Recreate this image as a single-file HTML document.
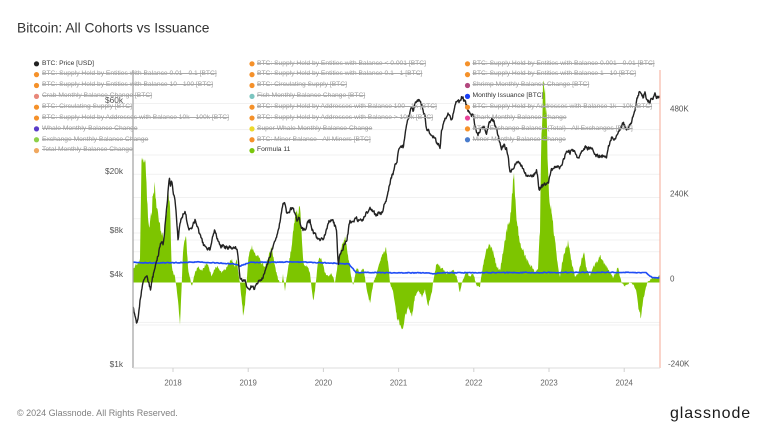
<!DOCTYPE html>
<html><head><meta charset="utf-8"><style>
html,body{margin:0;padding:0;background:#fff;}
#wrap{position:relative;width:768px;height:432px;overflow:hidden;font-family:"Liberation Sans",sans-serif;}
svg{position:absolute;left:0;top:0;}
.lg{position:absolute;font-size:6.7px;line-height:8px;white-space:nowrap;color:#999;text-decoration:line-through;text-decoration-color:#a8a8a8;}
.lg.on{color:#333;text-decoration:none;}
</style></head><body><div id="wrap">
<svg id="ch" width="768" height="432" viewBox="0 0 768 432" xmlns="http://www.w3.org/2000/svg">
<g id="grid" stroke="#f1f1f1" stroke-width="1"></g>
<path id="green" fill="#7dc500" stroke="none"/>
<path id="blue" fill="none" stroke="#1f4cf5" stroke-width="1.6"/>
<path id="price" fill="none" stroke="#222" stroke-width="1.4" stroke-linejoin="round"/>
<line x1="133" y1="70" x2="133" y2="368" stroke="#a0a0a0" stroke-width="1.2"/>
<line x1="660" y1="70" x2="660" y2="368" stroke="#f6b7a6" stroke-width="1.2"/>
<line x1="133" y1="368" x2="660" y2="368" stroke="#dedede" stroke-width="1"/>
<g stroke="#d0d0d0" stroke-width="1">
<line x1="173" y1="368" x2="173" y2="372"/><line x1="248.2" y1="368" x2="248.2" y2="372"/><line x1="323.4" y1="368" x2="323.4" y2="372"/><line x1="398.6" y1="368" x2="398.6" y2="372"/><line x1="473.8" y1="368" x2="473.8" y2="372"/><line x1="549" y1="368" x2="549" y2="372"/><line x1="624.2" y1="368" x2="624.2" y2="372"/>
</g>
<g font-family="Liberation Sans, sans-serif" font-size="8.3" fill="#555" text-anchor="end">
<text x="123" y="103">$60k</text><text x="123" y="174">$20k</text><text x="123" y="233">$8k</text><text x="123" y="277">$4k</text><text x="123" y="367">$1k</text>
</g>
<g font-family="Liberation Sans, sans-serif" font-size="8" fill="#555">
<text x="670" y="111.5">480K</text><text x="670" y="196.5">240K</text><text x="670" y="281.5">0</text><text x="668" y="366.5">-240K</text>
</g>
<g font-family="Liberation Sans, sans-serif" font-size="7.8" fill="#666" text-anchor="middle">
<text x="173" y="385.5">2018</text><text x="248.2" y="385.5">2019</text><text x="323.4" y="385.5">2020</text><text x="398.6" y="385.5">2021</text><text x="473.8" y="385.5">2022</text><text x="549" y="385.5">2023</text><text x="624.2" y="385.5">2024</text>
</g>
<text x="17" y="32.6" font-family="Liberation Sans, sans-serif" font-size="13.8" fill="#333">Bitcoin: All Cohorts vs Issuance</text>
<text x="17" y="416" font-family="Liberation Sans, sans-serif" font-size="9" fill="#808080">© 2024 Glassnode. All Rights Reserved.</text>
<text x="670" y="418" font-family="Liberation Sans, sans-serif" font-size="16" letter-spacing="0.9" fill="#1a1a1a">glassnode</text>
<g id="dots"></g>
</svg>

<div class="lg on" style="left:42px;top:59.6px">BTC: Price [USD]</div>
<div class="lg" style="left:42px;top:70.3px">BTC: Supply Held by Entities with Balance 0.01 - 0.1 [BTC]</div>
<div class="lg" style="left:42px;top:81.1px">BTC: Supply Held by Entities with Balance 10 - 100 [BTC]</div>
<div class="lg" style="left:42px;top:92px">Crab Monthly Balance Change [BTC]</div>
<div class="lg" style="left:42px;top:102.9px">BTC: Circulating Supply [BTC]</div>
<div class="lg" style="left:42px;top:113.8px">BTC: Supply Held by Addresses with Balance 10k - 100k [BTC]</div>
<div class="lg" style="left:42px;top:124.6px">Whale Monthly Balance Change</div>
<div class="lg" style="left:42px;top:135.6px">Exchange Monthly Balance Change</div>
<div class="lg" style="left:42px;top:146.4px">Total Monthly Balance Change</div>

<div class="lg" style="left:257px;top:59.6px">BTC: Supply Held by Entities with Balance &lt; 0.001 [BTC]</div>
<div class="lg" style="left:257px;top:70.3px">BTC: Supply Held by Entities with Balance 0.1 - 1 [BTC]</div>
<div class="lg" style="left:257px;top:81.1px">BTC: Circulating Supply [BTC]</div>
<div class="lg" style="left:257px;top:92px">Fish Monthly Balance Change [BTC]</div>
<div class="lg" style="left:257px;top:102.9px">BTC: Supply Held by Addresses with Balance 100 - 1k [BTC]</div>
<div class="lg" style="left:257px;top:113.8px">BTC: Supply Held by Addresses with Balance &gt; 100k [BTC]</div>
<div class="lg" style="left:257px;top:124.6px">Super Whale Monthly Balance Change</div>
<div class="lg" style="left:257px;top:135.6px">BTC: Miner Balance - All Miners [BTC]</div>
<div class="lg on" style="left:257px;top:146.4px">Formula 11</div>

<div class="lg" style="left:472.5px;top:59.6px">BTC: Supply Held by Entities with Balance 0.001 - 0.01 [BTC]</div>
<div class="lg" style="left:472.5px;top:70.3px">BTC: Supply Held by Entities with Balance 1 - 10 [BTC]</div>
<div class="lg" style="left:472.5px;top:81.1px">Shrimp Monthly Balance Change [BTC]</div>
<div class="lg on" style="left:472.5px;top:92px">Monthly Issuance [BTC]</div>
<div class="lg" style="left:472.5px;top:102.9px">BTC: Supply Held by Addresses with Balance 1k - 10k [BTC]</div>
<div class="lg" style="left:472.5px;top:113.8px">Shark Monthly Balance Change</div>
<div class="lg" style="left:472.5px;top:124.6px">BTC: Exchange Balance (Total) - All Exchanges [BTC]</div>
<div class="lg" style="left:472.5px;top:135.6px">Miner Monthly Balance Change</div>
</div>
<script>
(function(){
var NS="http://www.w3.org/2000/svg";
function rng(seed){return function(){seed|=0;seed=seed+0x6D2B79F5|0;var t=Math.imul(seed^seed>>>15,1|seed);t=t+Math.imul(t^t>>>7,61|t)^t;return((t^t>>>14)>>>0)/4294967296;};}
function interp(p,x){for(var i=0;i<p.length-1;i++){if(x<=p[i+1][0]){var a=p[i],b=p[i+1];var f=(x-a[0])/(b[0]-a[0]);return a[1]+(b[1]-a[1])*f;}}return p[p.length-1][1];}
var g=document.getElementById("grid");
[103.5,129.6,155,174.2,197.5,218.8,233,240,251.7,277.8,322.4,325].forEach(function(y){var l=document.createElementNS(NS,"line");l.setAttribute("x1",133);l.setAttribute("x2",660);l.setAttribute("y1",y);l.setAttribute("y2",y);g.appendChild(l);});
var dots=document.getElementById("dots");
var cols=[[36.5,["#222","#f5912a","#f5912a","#e8877a","#f5912a","#f5912a","#5a3cc8","#8ed04a","#f0a860"]],
[252,["#f5912a","#f5912a","#f5912a","#7cc5c0","#f5912a","#f5912a","#ecd92c","#f5912a","#7ac70c"]],
[467.5,["#f5912a","#f5912a","#b2487e","#1a3ff5","#f5912a","#e8449a","#f5912a","#4a7ccc"]]];
cols.forEach(function(c){c[1].forEach(function(col,i){var e=document.createElementNS(NS,"circle");e.setAttribute("cx",c[0]);e.setAttribute("cy",63.8+i*10.85);e.setAttribute("r",2.6);e.setAttribute("fill",col);dots.appendChild(e);});});
var B=282.5;
var gp=[[133,270],[135,266],[138,262],[140,258],[141.7,151.7],[143,156],[145,160],[146.7,190],[148.3,226.7],[150,223],[151.7,213],[153.3,190],[155,186.7],[156.7,206.7],[160,226.7],[163.3,240],[165,223],[168.3,196.7],[170,206.7],[171.2,250],[171.7,266.7],[173.3,273],[175,276],[176.7,290],[178,300],[180,321.7],[181.7,286],[183,250],[186,236.7],[188.3,270],[191.7,286.7],[195,273],[198.3,266.7],[201.7,270],[206.7,263],[211.7,276],[215,268],[218.3,266.7],[221.7,273],[226.7,266.7],[231.7,260],[235,266.7],[236.7,260],[238.3,273],[240,283],[241.7,300],[243.3,316.7],[245,305],[246.7,283],[248.3,256.7],[251.7,246.7],[255,253],[258.3,256.7],[261.7,263],[265,266.7],[268.3,256.7],[271.7,246.7],[275,266.7],[278.3,280],[281.7,283],[283,275],[285,290],[288.3,266],[291.7,246.7],[295,216.7],[298.3,211.7],[300,206.7],[301.7,233.3],[303.3,263],[306.7,266],[310,272],[311.7,290],[313.3,301.7],[315,290],[318.3,260],[321.7,258.3],[325,273],[328.3,276.7],[331.7,273],[335,283],[338.3,260],[341.7,246.7],[345,236.7],[348.3,256.7],[351.7,280],[353.3,285],[356.7,266.7],[360,273],[363.3,266.7],[366.7,290],[370,303.3],[373.3,283],[376.7,273],[380,260],[383.3,253],[386,248.3],[388.3,263],[390,283],[393.3,293.3],[396.7,316.7],[400,323],[402.7,330],[405,316.7],[408.3,306.7],[411.7,316.7],[415,296.7],[418.3,290],[421.7,296.7],[425,290],[428.3,306.7],[431.7,293.3],[433.3,280],[436.7,263],[440,266.7],[443.3,270],[446.7,273],[453.3,270],[456.7,276.7],[460,293.3],[461.7,283],[466.7,271.7],[470,276.7],[473.3,273],[476.7,286.7],[480,286],[483.3,263],[486.7,250],[489.3,243],[493.3,253],[496.7,266.7],[500,270],[503.3,250],[506.7,230],[510,220],[511.7,203],[513.3,172],[514.5,185],[516.7,220],[520,243],[526.7,260],[535,271.7],[538,269],[540,230],[541,153],[543.3,85],[546,103],[547.5,150],[549.3,196.7],[553.3,226.7],[558.3,270],[560,276],[563.3,256],[568.3,241.7],[571.7,263],[575,276.7],[578.3,273],[581.7,260],[584,253.3],[586.7,270],[590,275],[593.3,266.7],[596.7,261.7],[600,256],[603.3,261.7],[606.7,266.7],[610,273],[613.3,278],[616.7,270],[618.3,268.3],[620,276.7],[621.7,283],[625,286],[630,283],[633.3,284.5],[636,290],[638.3,306.7],[640.7,316.7],[643.3,300],[646,286.7],[648.3,281],[651.7,278],[656.7,278],[660,275]];
var r=rng(12345);
var d="M133,"+B;
for(var x=133;x<=660;x+=0.5){var y=interp(gp,x);var dd=Math.abs(B-y);y+=(r()-0.5)*(1.6+dd*0.12);d+=" L"+x.toFixed(1)+","+y.toFixed(1);}
d+=" L660,"+B+" Z";
document.getElementById("green").setAttribute("d",d);
var bp=[[133,262.5],[160,263],[200,262],[235,264],[240,266],[250,262.5],[300,262],[330,263],[349,264],[356,272.5],[430,273],[433,274],[440,272.8],[600,272.3],[646,272.5],[652,277.7],[660,277.7]];
var r2=rng(777);var db="";
for(var x=133;x<=660;x+=1){var y=interp(bp,x)+(r2()-0.5)*0.8;db+=(db?" L":"M")+x+","+y.toFixed(1);}
document.getElementById("blue").setAttribute("d",db);
var pp=[[133,306.7],[135,315],[136.7,325],[138,318],[140,300],[142,288],[143.3,283],[145,280],[147,276],[149,284],[150.5,290],[152,280],[154,272],[156,262],[158,255],[160,246],[161.7,240],[163,244],[164.5,232],[166,214],[167.5,198],[169.3,175],[170.5,185],[171.5,180],[173.3,193],[175,200],[176.5,218],[178,240],[180,222],[182,218],[185,210],[187,222],[190,230],[192.5,226],[195,220],[197,226],[200,236],[203,244],[205,247],[207,250],[210,250],[212,240],[215,230],[217,238],[220,246],[223.3,246.7],[226,248],[230,246.7],[234,247],[237,249],[238.5,262],[240,276.7],[242,280],[245,282],[248,290],[251.7,286.7],[254,288],[256.7,284],[259,281],[262,278],[265,272],[268,262],[270,256.7],[273,246],[276.7,236.7],[279,228],[281,215],[283.3,203.3],[285,205],[286.7,213.3],[289,214],[291,208],[293.3,210],[296.7,220],[299,218],[301,226],[303.3,230],[306,228],[308,222],[310,221.7],[313,232],[316,236],[320,240],[323,238],[326,232],[329,222],[331.7,218.3],[334,224],[336.7,230],[337.5,250],[338.3,263.3],[340,255],[343,248],[346.7,240],[350,220],[353,222],[356,218],[360,221.7],[364,218],[367,212],[370,208.3],[373,212],[376.7,215],[379,212],[381.7,213],[384,205],[386.7,200],[389,188],[391.7,176.7],[393.5,172],[395,165],[397,160],[399,150],[401,148],[403.3,146.7],[405,135],[406.7,123.3],[408.5,118],[410,112],[411.7,105],[413,110],[415,104],[417,103],[420,100],[422,106],[425,116.7],[426.5,128],[428.3,130],[430,134],[433.3,136.7],[436,140],[438,144],[440,146.7],[441.5,132],[443.3,123.3],[446,118],[448.3,113.3],[450,117],[451.7,122],[453.5,112],[456.7,100],[459,102],[461.7,96.7],[464,100],[466.7,106],[469,112],[471,114],[473.3,116.7],[475,125],[476.7,133.3],[478.3,134],[481,128],[483.3,126.7],[486.7,133.3],[489,124],[491.7,118.3],[494,122],[496.7,130],[499,140],[501.7,148.3],[504,146],[506.7,149],[508.5,160],[510,173.3],[512,170],[513.3,166.7],[516,164],[518,160],[520,161.7],[523,170],[526.7,176.7],[530,175],[533.3,176.7],[536.7,170],[538,180],[539,188.3],[542,186],[545,184],[548.3,185],[550,176],[551.7,170],[554,168],[556.7,165],[560,168],[563.3,160],[565,155],[566.7,150],[570,152],[573.3,151],[577,156],[580,155],[582,150],[585,146.7],[588,149],[590,148],[593.3,150],[596,155],[598.3,156.7],[602,156],[606.7,155],[609,145],[611.7,136.7],[614,138],[616.7,135],[619,131],[621,128],[623.3,123.3],[626,126],[628,130],[630,125],[632.5,118],[635,110],[637,100],[639.3,91.7],[641,94],[643.3,97],[645,93],[647,100],[650,101.7],[652,98],[655,95],[657,97],[659.5,98]];
var r3=rng(4242);var dp="";var n=0;
for(var x=133;x<=659.5;x+=0.5){n=0.45*n+(r3()-0.5)*3.6;var y=interp(pp,x)+n;dp+=(dp?" L":"M")+x.toFixed(1)+","+y.toFixed(1);}
document.getElementById("price").setAttribute("d",dp);
})();
</script>
</body></html>
